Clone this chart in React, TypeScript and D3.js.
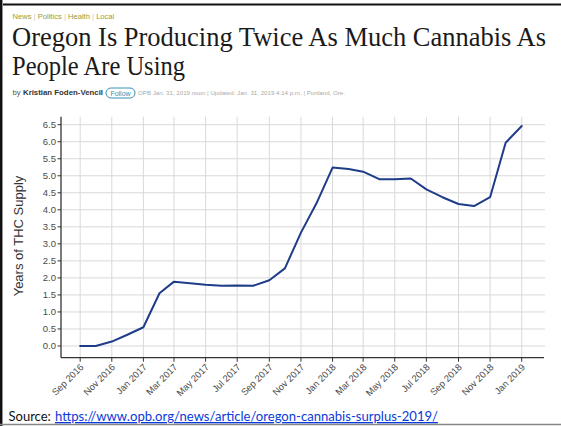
import React from "react";
import * as d3 from "d3";

const months: string[] = [
  "2016-09","2016-10","2016-11","2016-12","2017-01","2017-02","2017-03","2017-04","2017-05","2017-06",
  "2017-07","2017-08","2017-09","2017-10","2017-11","2017-12","2018-01","2018-02","2018-03","2018-04",
  "2018-05","2018-06","2018-07","2018-08","2018-09","2018-10","2018-11","2018-12","2019-01",
];
const supplyYears: number[] = [
  0.0, 0.0, 0.13, 0.33, 0.55, 1.55, 1.89, 1.84, 1.80, 1.77,
  1.78, 1.77, 1.93, 2.28, 3.33, 4.19, 5.24, 5.20, 5.12, 4.90,
  4.90, 4.92, 4.60, 4.37, 4.17, 4.11, 4.37, 5.97, 6.46,
];
const yTicks: number[] = [0, 0.5, 1, 1.5, 2, 2.5, 3, 3.5, 4, 4.5, 5, 5.5, 6, 6.5];
const xTickMonths: string[] = [
  "2016-09","2016-11","2017-01","2017-03","2017-05","2017-07","2017-09","2017-11",
  "2018-01","2018-03","2018-05","2018-07","2018-09","2018-11","2019-01",
];
const sections: string[] = ["News", "Politics", "Health", "Local"];
const titleLines: string[] = ["Oregon Is Producing Twice As Much Cannabis As", "People Are Using"];
const author = "Kristian Foden-Vencil";
const meta = "OPB Jan. 31, 2019 noon | Updated: Jan. 31, 2019 4:14 p.m. | Portland, Ore.";
const sourceUrl = "https://www.opb.org/news/article/oregon-cannabis-surplus-2019/";

const W = 561, H = 426;
const parse = (s: string) => { const [y, m] = s.split("-").map(Number); return new Date(y, m - 1, 1); };
const fmt = d3.timeFormat("%b %Y");

export default function App() {
  const x = d3.scaleTime().domain([new Date(2016, 6, 26), new Date(2019, 1, 13)]).range([61, 544]);
  const y = d3.scaleLinear().domain([-0.344, 6.735]).range([357.7, 116.7]);
  const data = months.map((m, i) => ({ d: parse(m), v: supplyYears[i] }));
  const line = d3.line<{ d: Date; v: number }>().x(p => x(p.d)).y(p => y(p.v));
  const [x0, x1] = x.range();
  const [yb, yt] = y.range();
  const axisColor = "#333";
  const labelColor = "#4a4a4a";

  return (
    <svg width={W} height={H} style={{ position: "absolute", left: 0, top: 0, background: "#fff" }}
      fontFamily="'Liberation Sans', Arial, sans-serif">
      {/* frame */}
      <rect x={0} y={0} width={W} height={H} fill="#fff" />
      <line x1={3} x2={W} y1={4.5} y2={4.5} stroke="#111" strokeWidth={2} />
      <line x1={1.2} x2={1.2} y1={0} y2={H} stroke="#111" strokeWidth={2.5} />
      <line x1={0} x2={W} y1={424.5} y2={424.5} stroke="#888" strokeWidth={1.5} />

      {/* section nav */}
      <text x={12.5} y={19} fontSize={7.6} fill="#9a9b35">
        {sections.map((s, i) => (
          <tspan key={s}>
            {s}
            {i < sections.length - 1 ? <tspan fill="#c8c8c8"> | </tspan> : null}
          </tspan>
        ))}
      </text>

      {/* title */}
      <text x={12} y={45.5} fontFamily="'Liberation Serif', 'DejaVu Serif', serif" fontSize={27} fill="#1a1a1a"
        textLength={534} lengthAdjust="spacingAndGlyphs">{titleLines[0]}</text>
      <text x={12} y={75} fontFamily="'Liberation Serif', 'DejaVu Serif', serif" fontSize={27} fill="#1a1a1a"
        textLength={173} lengthAdjust="spacingAndGlyphs">{titleLines[1]}</text>

      {/* byline */}
      <text x={12.5} y={95} fontSize={7.6} fill="#555">by </text>
      <text x={23} y={95} fontSize={7.6} fontWeight="bold" fill="#333" textLength={80} lengthAdjust="spacingAndGlyphs">{author}</text>
      <rect x={106} y={88} width={29} height={10} rx={5} ry={5} fill="#fff" stroke="#3b8fb4" strokeWidth={1} />
      <text x={120.5} y={95.5} fontSize={7} fill="#3b8fb4" textAnchor="middle">Follow</text>
      <text x={138} y={95} fontSize={5.6} fill="#aaa" textLength={207} lengthAdjust="spacingAndGlyphs">{meta}</text>

      {/* grid */}
      <g stroke="#d9d9d9" strokeWidth={1}>
        {yTicks.map(t => (
          <line key={"gy" + t} x1={x0} x2={545} y1={y(t)} y2={y(t)} />
        ))}
        {xTickMonths.map(m => (
          <line key={"gx" + m} x1={x(parse(m))} x2={x(parse(m))} y1={yt} y2={yb} />
        ))}
      </g>

      {/* axes */}
      <line x1={x0} x2={x0} y1={yt} y2={yb} stroke={axisColor} strokeWidth={1.3} />
      <line x1={x0} x2={x1} y1={yb} y2={yb} stroke={axisColor} strokeWidth={1.3} />
      {yTicks.map(t => (
        <g key={"ty" + t}>
          <line x1={x0 - 3.5} x2={x0} y1={y(t)} y2={y(t)} stroke={axisColor} strokeWidth={1} />
          <text x={x0 - 5} y={y(t)} dy="0.35em" fontSize={9.5} fill={labelColor} textAnchor="end">{t.toFixed(1)}</text>
        </g>
      ))}
      {xTickMonths.map(m => {
        const px = x(parse(m));
        return (
          <g key={"tx" + m}>
            <line x1={px} x2={px} y1={yb} y2={yb + 4} stroke={axisColor} strokeWidth={1} />
            <text transform={`translate(${px + 2},${yb + 8}) rotate(-45)`} fontSize={9.4} fill={labelColor}
              textAnchor="end" dy="0.3em">{fmt(parse(m))}</text>
          </g>
        );
      })}

      {/* y label */}
      <text transform={`translate(23,236) rotate(-90)`} fontSize={13} fill="#333" textAnchor="middle">Years of THC Supply</text>

      {/* line */}
      <path d={line(data) || ""} fill="none" stroke="#1f3c88" strokeWidth={2} strokeLinejoin="round" strokeLinecap="round" />

      {/* source */}
      <text x={8.5} y={421} fontFamily="Lato, 'Open Sans', sans-serif" fontSize={13} fill="#111">Source: </text>
      <text x={55} y={421} fontFamily="Lato, 'Open Sans', sans-serif" fontSize={13} fill="#0b3ad8"
        textDecoration="underline" textLength={383} lengthAdjust="spacingAndGlyphs">{sourceUrl}</text>
    </svg>
  );
}
